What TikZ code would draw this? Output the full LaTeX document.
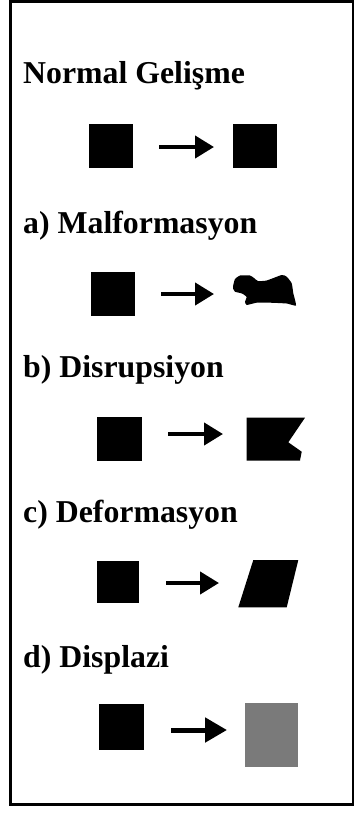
\documentclass[tikz,border=0pt]{standalone}
\usepackage{fontspec}
\setmainfont{Liberation Serif}
\usetikzlibrary{arrows.meta}
\begin{document}
\begin{tikzpicture}[x=1pt,y=-1pt,
  title/.style={anchor=base west,inner sep=0pt,font=\fontsize{31.8}{36}\selectfont\bfseries},
  blk/.style={fill=black,draw=none,inner sep=0pt,minimum width=#1,minimum height=#1},
  blk/.default=44pt,
  arr/.style={line width=4.2pt,-{Triangle[length=19pt,width=22pt]}},
  arrbig/.style={line width=5pt,-{Triangle[length=22pt,width=24pt]}}]
\useasboundingbox (0,0) rectangle (356,814);
\fill[white] (0,0) rectangle (356,814);
\draw[line width=2.6pt] (10.5,1.2) rectangle (353,804.5);

% Normal
\node[title] (t0) at (23,83) {Normal Gelişme};
\node[blk] (l0) at (111,145.5) {};
\node[blk] (r0) at (255,145.5) {};
\coordinate (a0s) at (159,147);
\coordinate (a0e) at (214,147);
\draw[arr] (a0s) -- (a0e);

% a
\node[title] (t1) at (23,233) {a) Malformasyon};
\node[blk] (l1) at (113,294) {};
\coordinate (a1s) at (161,294);
\coordinate (a1e) at (214,294);
\draw[arr] (a1s) -- (a1e);
\coordinate (r1) at (264,290);
\fill[black] plot[smooth cycle,tension=0.3] coordinates{
(233.3,285) (235,279) (240,275.5) (250,275.5) (254,278) (258,281)
(266.7,280.5) (281.7,275) (286.7,276.7) (291.7,283.3) (293.3,293.3)
(296,305.5) (286.7,303.5) (270,302.7) (256.7,302.7) (246.7,305)
(245,301.7) (246.7,297) (242,293.5) (235,291.7) (233,288.3)};

% b
\node[title] (t2) at (23,377) {b) Disrupsiyon};
\node[blk=44.5pt] (l2) at (119.5,439) {};
\coordinate (a2s) at (168,434);
\coordinate (a2e) at (223,434);
\draw[arr] (a2s) -- (a2e);
\coordinate (r2) at (270,439);
\fill[black] (246.7,417.7) -- (305,417.7) -- (288.3,442.3) -- (301.7,451.7)
  -- (300,460.5) -- (246.7,460.5) -- cycle;

% c
\node[title] (t3) at (23,522) {c) Deformasyon};
\node[blk=42.5pt] (l3) at (118,582) {};
\coordinate (a3s) at (166,583);
\coordinate (a3e) at (219,583);
\draw[arr] (a3s) -- (a3e);
\coordinate (r3) at (268,583);
\fill[black] (253.3,560) -- (298.3,560) -- (286.7,607.3) -- (238.3,607.3) -- cycle;

% d
\node[title] (t4) at (23,667) {d) Displazi};
\node[blk=45.5pt] (l4) at (121.5,727) {};
\coordinate (a4s) at (171,730);
\coordinate (a4e) at (227,730);
\draw[arrbig] (a4s) -- (a4e);
\node[fill=black!52,draw=none,inner sep=0pt,minimum width=53pt,minimum height=64pt] (r4) at (271.5,735) {};
\end{tikzpicture}
\end{document}
